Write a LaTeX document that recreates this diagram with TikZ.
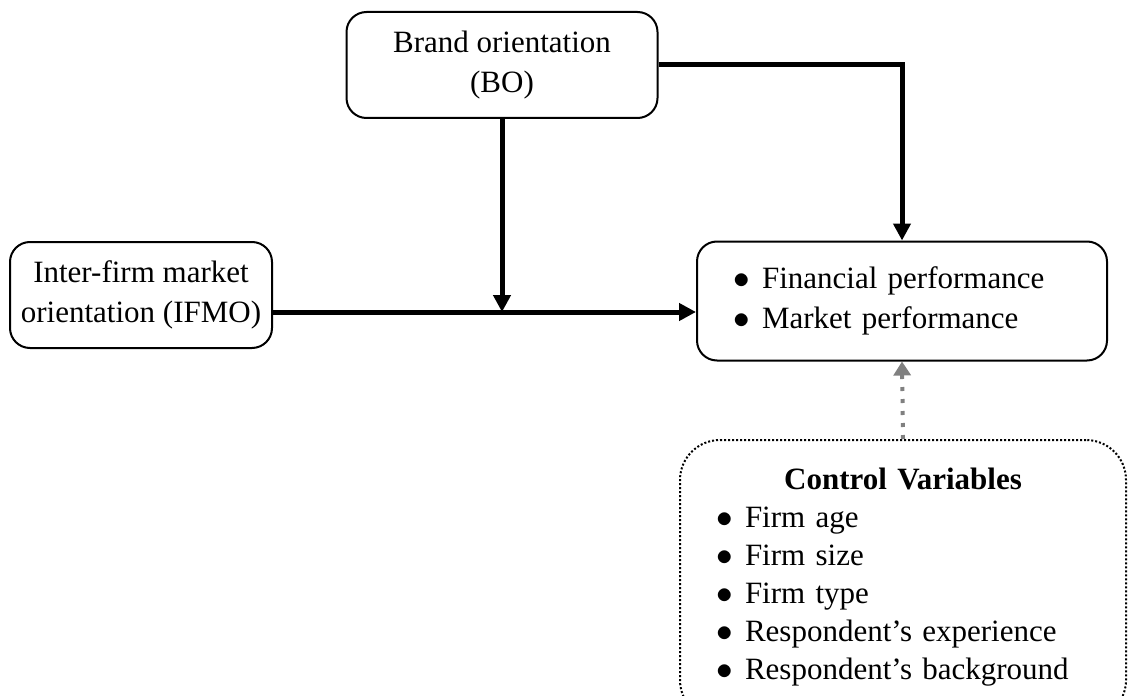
\documentclass[tikz,border=0pt]{standalone}
\usepackage{fontspec}
\setmainfont{Liberation Serif}
\usetikzlibrary{arrows.meta}

\newcommand{\itembul}{\makebox[13.5pt][l]{\hspace{-1pt}\scalebox{1.15}{$\bullet$}}}

\begin{document}
\begin{tikzpicture}[x=0.5pt, y=-0.5pt, font=\fontsize{15.5}{20}\selectfont]
    \tikzstyle{box} = [rectangle, draw, line width=1pt, rounded corners=10pt, align=center, inner sep=0pt]
    \tikzstyle{flow} = [line width=2.5pt, -{Triangle[length=8.5pt, width=8.5pt]}]
    \tikzstyle{ctrlflow} = [line width=2pt, draw=black!50, dash pattern=on 2pt off 4pt, -{Triangle[length=7pt, width=8.5pt]}]

    \useasboundingbox (0,0) rectangle (1128,695);

    \node [box, minimum width=155.5pt, minimum height=53pt] (bo) at (502,65) {Brand orientation\\(BO)};
    \node [box, minimum width=131pt, minimum height=53pt] (ifmo) at (141,295) {Inter-firm market\\orientation (IFMO)};
    \node [box, minimum height=59.5pt, align=left, inner xsep=19pt, text width=167pt] (perf) at (902,301)
        {\itembul Financial performance\\\itembul Market performance};
    \node [rectangle, draw, line width=1pt, dash pattern=on 1pt off 1pt, rounded corners=20pt,
        minimum width=223pt, minimum height=140pt] (ctrl) at (903,580) {};
    \node [anchor=north, align=left, inner sep=0pt, text width=185pt, font=\fontsize{15.5}{19}\selectfont] (ctrltxt) at (903,468)
        {\makebox[185pt]{\textbf{Control Variables}}\\
         \itembul Firm age\\
         \itembul Firm size\\
         \itembul Firm type\\
         \itembul Respondent’s experience\\
         \itembul Respondent’s background};

    \coordinate (iout) at ([yshift=-8.5pt]ifmo.east);

    \draw [flow] (bo.east) -| (perf.north);
    \draw [flow] (iout) -- (iout -| perf.west);
    \draw [flow] (bo.south) -- (bo.south |- iout);
    \draw [ctrlflow] (ctrl.north) -- (perf.south);
\end{tikzpicture}
\end{document}
